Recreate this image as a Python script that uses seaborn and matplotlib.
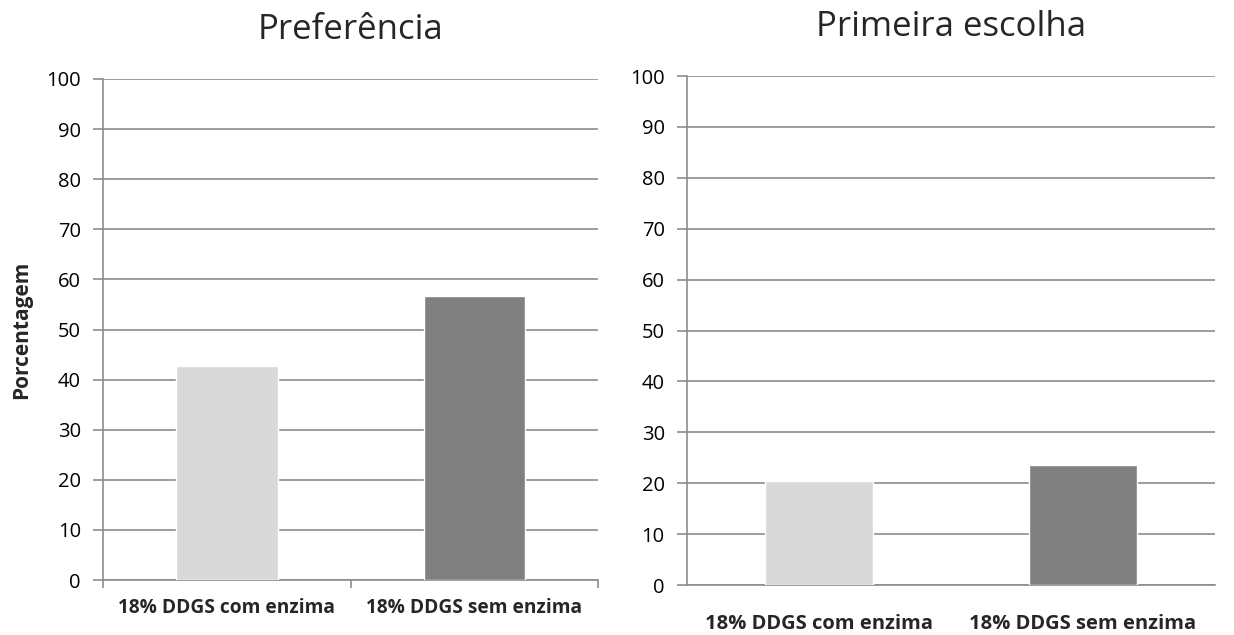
import matplotlib
matplotlib.use("Agg")
import matplotlib.pyplot as plt
import seaborn as sns
import pandas as pd

categories = ["18% DDGS com enzima", "18% DDGS sem enzima"]
preferencia = [42.7, 56.7]
primeira_escolha = [20.5, 23.5]
titles = ["Preferência", "Primeira escolha"]
y_ticks = list(range(0, 101, 10))
bar_colors = ["#D9D9D9", "#808080"]

sns.set_theme(style="white")
plt.rcParams["font.family"] = ["Open Sans", "DejaVu Sans"]

fig = plt.figure(figsize=(12.34, 6.35), dpi=100)
ax1 = fig.add_axes([0.0835, 0.0866, 0.4011, 0.789])
ax2 = fig.add_axes([0.5567, 0.0787, 0.4279, 0.8016])

grid_col = "#8c8c8c"

for ax, vals, title in [(ax1, preferencia, titles[0]), (ax2, primeira_escolha, titles[1])]:
    df = pd.DataFrame({"cat": categories, "val": vals})
    sns.barplot(data=df, x="cat", y="val", hue="cat", palette=bar_colors,
                width=0.41, legend=False, ax=ax, zorder=3, saturation=1)
    ax.set_ylim(0, 100)
    ax.set_xlim(-0.5, 1.5)
    ax.set_yticks(y_ticks)
    ax.yaxis.grid(True, color=grid_col, linewidth=1.2, zorder=0)
    ax.set_axisbelow(True)
    for s in ["top", "right"]:
        ax.spines[s].set_visible(False)
    for s in ["left", "bottom"]:
        ax.spines[s].set_color(grid_col)
        ax.spines[s].set_linewidth(1.2)
    ax.tick_params(axis="y", direction="out", length=7, width=1.2, color=grid_col,
                   labelsize=14.5, labelcolor="#000000", pad=9, left=True)
    ax.set_xlabel("")
    ax.set_ylabel("")
    ax.set_title(title, fontsize=25, pad=29)

# category labels
ax1.set_xticks([0, 1])
ax1.set_xticklabels(categories, fontsize=13.8, fontweight="bold")
ax1.tick_params(axis="x", length=0, pad=13)
# boundary ticks between categories on the left panel
ax1.set_xticks([-0.5, 0.5, 1.5], minor=True)
ax1.tick_params(axis="x", which="minor", direction="out", length=6, width=1.2,
                color=grid_col, bottom=True)

ax2.set_xticks([0, 1])
ax2.set_xticklabels(categories, fontsize=14.5, fontweight="bold")
ax2.tick_params(axis="x", length=0, pad=21)

ax1.set_ylabel("Porcentagem", fontsize=15, fontweight="bold", labelpad=10)

fig.savefig("out.png", dpi=100)
